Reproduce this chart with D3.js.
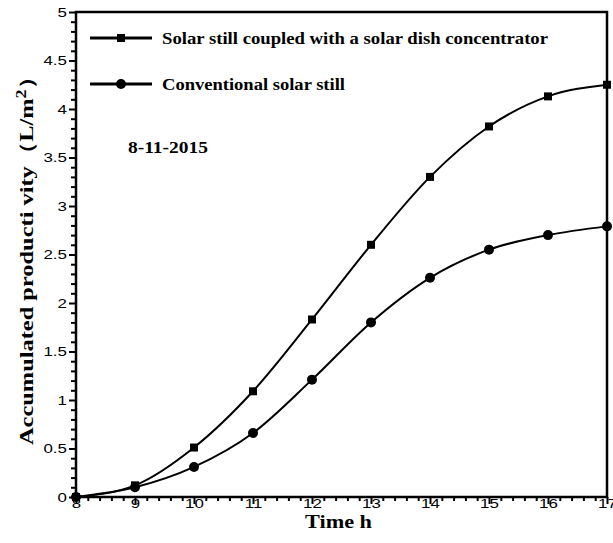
<!DOCTYPE html>
<html>
<head>
<meta charset="utf-8">
<script src="https://cdn.jsdelivr.net/npm/d3@7"></script>
<style>
  body { margin: 0; background: #fff; }
  svg { display: block; }
</style>
</head>
<body>
<div id="chart"></div>
<script>
// datos
const horas = [8, 9, 10, 11, 12, 13, 14, 15, 16, 17];
const conConcentrador = [0, 0.12, 0.51, 1.09, 1.83, 2.6, 3.3, 3.82, 4.13, 4.25];
const convencional = [0, 0.1, 0.31, 0.66, 1.21, 1.8, 2.26, 2.55, 2.7, 2.79];
const nombres = ["Solar still coupled with a solar dish concentrator", "Conventional solar still"];
const ticksX = [8, 9, 10, 11, 12, 13, 14, 15, 16, 17];
const ticksY = [0, 0.5, 1, 1.5, 2, 2.5, 3, 3.5, 4, 4.5, 5];

const width = 613, height = 543;
const margin = { top: 12, right: 6, bottom: 46, left: 76 };
const w = width - margin.left - margin.right;
const h = height - margin.top - margin.bottom;

const svg = d3.select("#chart").append("svg")
  .attr("width", width)
  .attr("height", height);

const g = svg.append("g")
  .attr("transform", `translate(${margin.left},${margin.top})`);

const x = d3.scaleLinear().domain([8, 17]).range([0, w]);
const y = d3.scaleLinear().domain([0, 5]).range([h, 0]);

const serif = "'Liberation Serif', 'Times New Roman', serif";
const sans = "'Liberation Sans', Arial, sans-serif";

// ticks menores
const menoresX = d3.range(8, 17.001, 0.2).filter(v => Math.abs(v - Math.round(v)) > 0.01);
const menoresY = d3.range(0, 5.001, 0.1).filter(v => Math.abs(v * 2 - Math.round(v * 2)) > 0.01);

g.append("g")
  .attr("transform", `translate(0,${h})`)
  .call(d3.axisBottom(x).tickValues(menoresX).tickSize(4).tickFormat(""))
  .call(a => a.select(".domain").remove())
  .selectAll("line").attr("stroke-width", 2);

g.append("g")
  .call(d3.axisLeft(y).tickValues(menoresY).tickSize(5).tickFormat(""))
  .call(a => a.select(".domain").remove())
  .selectAll("line").attr("stroke-width", 2);

// ejes principales
const ejeX = g.append("g")
  .attr("transform", `translate(0,${h})`)
  .call(d3.axisBottom(x).tickValues(ticksX).tickSize(7).tickFormat(d3.format("d")));
ejeX.select(".domain").remove();
ejeX.selectAll("line").attr("stroke-width", 2);
ejeX.selectAll("text")
  .attr("font-family", sans).attr("font-size", 13)
  .attr("y", 2)
  .attr("transform", "scale(1.3,1)");

const ejeY = g.append("g")
  .call(d3.axisLeft(y).tickValues(ticksY).tickSize(7).tickPadding(0).tickFormat(d => d));
ejeY.select(".domain").remove();
ejeY.selectAll("line").attr("stroke-width", 2);
ejeY.selectAll("text")
  .attr("font-family", sans).attr("font-size", 13)
  .attr("x", -7)
  .attr("transform", "scale(1.3,1)");

// marco
g.append("rect")
  .attr("x", 0).attr("y", 0)
  .attr("width", w).attr("height", h)
  .attr("fill", "none")
  .attr("stroke", "#000")
  .attr("stroke-width", 2.5);

// curvas
const linea = d3.line()
  .x(d => x(d[0]))
  .y(d => y(d[1]))
  .curve(d3.curveMonotoneX);

const series = [
  { nombre: nombres[0], valores: horas.map((t, i) => [t, conConcentrador[i]]), marca: "cuadro" },
  { nombre: nombres[1], valores: horas.map((t, i) => [t, convencional[i]]), marca: "circulo" }
];

const dibujarMarca = (sel, tipo, size) => {
  if (tipo === "cuadro") {
    sel.append("rect")
      .attr("x", -size / 2).attr("y", -size / 2)
      .attr("width", size).attr("height", size)
      .attr("fill", "#000");
  } else {
    sel.append("circle").attr("r", size / 2 + 1).attr("fill", "#000");
  }
};

series.forEach(s => {
  g.append("path")
    .datum(s.valores)
    .attr("fill", "none")
    .attr("stroke", "#000")
    .attr("stroke-width", 2)
    .attr("d", linea);

  g.selectAll(null)
    .data(s.valores)
    .enter()
    .append("g")
    .attr("transform", d => `translate(${x(d[0])},${y(d[1])})`)
    .each(function () { dibujarMarca(d3.select(this), s.marca, 8); });
});

// leyenda
const leyenda = svg.append("g");
const yLeyenda = [38, 84];
const largoTexto = [386, 183];
series.forEach((s, i) => {
  const item = leyenda.append("g").attr("transform", `translate(0,${yLeyenda[i]})`);
  item.append("line")
    .attr("x1", 90).attr("x2", 152)
    .attr("stroke", "#000").attr("stroke-width", 3);
  dibujarMarca(item.append("g").attr("transform", "translate(121,0)"), s.marca, 8);
  item.append("text")
    .attr("x", 162).attr("y", 6)
    .attr("font-family", serif).attr("font-weight", "bold").attr("font-size", 16)
    .attr("textLength", largoTexto[i]).attr("lengthAdjust", "spacingAndGlyphs")
    .text(s.nombre);
});

// fecha
svg.append("text")
  .attr("x", 128).attr("y", 153)
  .attr("font-family", serif).attr("font-weight", "bold").attr("font-size", 16)
  .attr("textLength", 80).attr("lengthAdjust", "spacingAndGlyphs")
  .text("8-11-2015");

// titulos de ejes
svg.append("text")
  .attr("x", 305).attr("y", 528)
  .attr("font-family", serif).attr("font-weight", "bold").attr("font-size", 18)
  .attr("textLength", 67).attr("lengthAdjust", "spacingAndGlyphs")
  .text("Time h");

const tituloY = svg.append("text")
  .attr("transform", "translate(33,445) rotate(-90)")
  .attr("font-family", serif).attr("font-weight", "bold").attr("font-size", 19)
  .attr("textLength", 380).attr("lengthAdjust", "spacingAndGlyphs");
tituloY.append("tspan").text("Accumulated producti vity（L/m");
tituloY.append("tspan").attr("dy", -7).attr("font-size", 14).text("2");
tituloY.append("tspan").attr("dy", 7).text("）");
</script>
</body>
</html>
